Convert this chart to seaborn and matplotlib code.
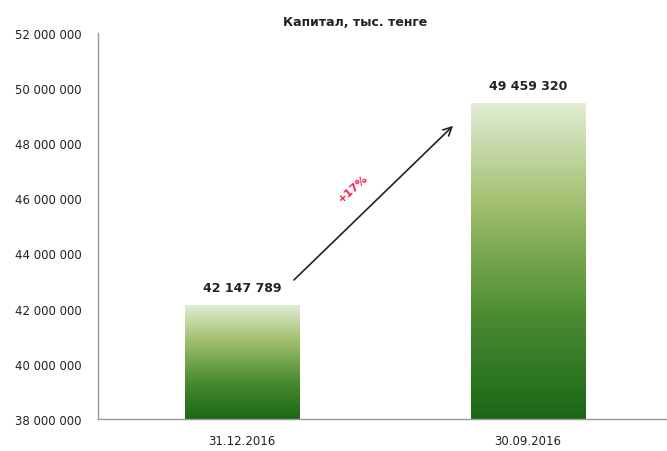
import matplotlib.pyplot as plt
import seaborn as sns
import numpy as np
import pandas as pd
from matplotlib.colors import LinearSegmentedColormap

# данные
dates = ['31.12.2016', '30.09.2016']
capital = [42147789, 49459320]
growth_label = '+17%'

df = pd.DataFrame({'date': dates, 'capital': capital})

sns.set_style('white')
plt.rcParams['font.family'] = ['DejaVu Sans']

fig = plt.figure(figsize=(6.67, 4.52), dpi=100)
ax = fig.add_axes([0.147, 0.071, 0.853, 0.854])

sns.barplot(data=df, x='date', y='capital', width=0.4, color='#4a8a30', ax=ax)

# градиент в каждом столбце: светлый сверху, тёмный снизу
cmap = LinearSegmentedColormap.from_list('grn', ['#1a6716', '#4c8c32', '#9dbd6a', '#e3edd5'])
grad = np.linspace(0, 1, 256).reshape(-1, 1)
for p in ax.patches:
    x0, y0 = p.get_x(), p.get_y()
    w, h = p.get_width(), p.get_height()
    p.set_facecolor('none')
    p.set_edgecolor('none')
    im = ax.imshow(grad, cmap=cmap, aspect='auto', origin='lower',
                   extent=[x0, x0 + w, 38000000, y0 + h], zorder=2)
    im.set_clip_path(p)

ax.set_ylim(38000000, 52000000)
ax.set_xlim(-0.503, 1.486)
ax.set_yticks(np.arange(38000000, 52000001, 2000000))
ax.yaxis.set_major_formatter(plt.FuncFormatter(lambda v, _: f'{int(v):,}'.replace(',', ' ')))
ax.tick_params(axis='y', length=0, labelsize=8.5, colors='#222222', pad=12)
ax.tick_params(axis='x', length=0, labelsize=8.5, colors='#222222', pad=11)
ax.set_xlabel('')
ax.set_ylabel('')

for s in ['top', 'right']:
    ax.spines[s].set_visible(False)
for s in ['left', 'bottom']:
    ax.spines[s].set_color('#999999')
    ax.spines[s].set_linewidth(1)

# подписи значений
for i, v in enumerate(capital):
    ax.text(i, v + 380000, f'{v:,}'.replace(',', ' '), ha='center', va='bottom',
            fontsize=9, fontweight='bold', color='#222222')

# стрелка роста
ax.annotate('', xy=(0.745, 48700000), xytext=(0.175, 42970000),
            arrowprops=dict(arrowstyle='->', color='#222222', lw=1.2, mutation_scale=15))
ax.text(0.39, 46400000, growth_label, color='#ff1a4a', fontsize=8, fontweight='bold',
        rotation=42, ha='center', va='center')

fig.text(0.532, 0.950, 'Капитал, тыс. тенге', ha='center', va='center',
         fontsize=9, fontweight='bold', color='#222222')

fig.savefig('out.png', dpi=100)
